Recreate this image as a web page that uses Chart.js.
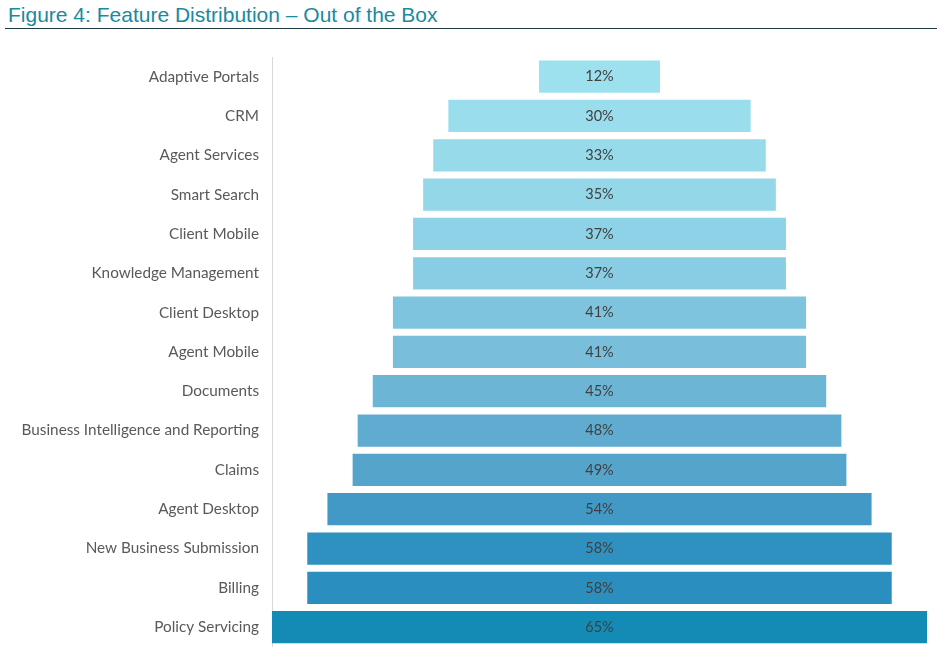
<!DOCTYPE html>
<html lang="en">
<head>
    <meta charset="UTF-8">
    <title>Figure 4: Feature Distribution – Out of the Box</title>
    <style>
        body {
            margin: 0;
            padding: 0;
            background: #fff;
            overflow: hidden;
        }
        .wrap {
            position: relative;
            width: 952px;
            height: 658px;
            overflow: hidden;
        }
        .title {
            position: absolute;
            left: 8px;
            top: 3px;
            font-family: 'Liberation Sans', Arial, sans-serif;
            font-size: 21px;
            color: #1a8a9f;
        }
        .rule {
            position: absolute;
            left: 5px;
            top: 28px;
            width: 932px;
            height: 1px;
            background: #1f3b45;
        }
        canvas {
            position: absolute;
            left: 0;
            top: 0;
        }
    </style>
</head>
<body>
    <div class="wrap">
        <div class="title">Figure 4: Feature Distribution – Out of the Box</div>
        <div class="rule"></div>
        <canvas id="funnel" width="952" height="661"></canvas>
    </div>
    <script src="https://cdn.jsdelivr.net/npm/chart.js@4"></script>
    <script>
        const features = ['Adaptive Portals', 'CRM', 'Agent Services', 'Smart Search', 'Client Mobile',
            'Knowledge Management', 'Client Desktop', 'Agent Mobile', 'Documents',
            'Business Intelligence and Reporting', 'Claims', 'Agent Desktop',
            'New Business Submission', 'Billing', 'Policy Servicing'];
        const shares = [12, 30, 33, 35, 37, 37, 41, 41, 45, 48, 49, 54, 58, 58, 65];
        const barColors = ['#9de0ee', '#9adeed', '#97dbeb', '#93d7e9', '#8dd2e6', '#88cde3', '#7fc4de',
            '#79bedb', '#6db5d5', '#60abd0', '#55a4cc', '#4299c5', '#2f91c0', '#2a8fbe', '#148bb5'];

        // write the % in the middle of each bar
        const centerLabels = {
            id: 'centerLabels',
            afterDatasetsDraw(chart) {
                const ctx = chart.ctx;
                const meta = chart.getDatasetMeta(0);
                ctx.save();
                ctx.font = '14.5px Lato, sans-serif';
                ctx.fillStyle = '#404040';
                ctx.textAlign = 'center';
                ctx.textBaseline = 'middle';
                meta.data.forEach((bar, i) => {
                    const xc = chart.scales.x.getPixelForValue(0);
                    ctx.fillText(shares[i] + '%', xc, bar.y);
                });
                ctx.restore();
            }
        };

        new Chart(document.getElementById('funnel'), {
            type: 'bar',
            data: {
                labels: features,
                datasets: [{
                    data: shares.map(v => [-v / 2, v / 2]),
                    backgroundColor: barColors,
                    borderWidth: 0,
                    categoryPercentage: 1,
                    barPercentage: 0.82
                }]
            },
            options: {
                indexAxis: 'y',
                responsive: false,
                animation: false,
                layout: { padding: { left: 0, right: 25, top: 57, bottom: 0 } },
                plugins: {
                    legend: { display: false },
                    tooltip: { enabled: false }
                },
                scales: {
                    x: {
                        display: false,
                        min: -32.5,
                        max: 32.5
                    },
                    y: {
                        afterFit: s => { s.width = 272; },
                        grid: { display: false },
                        border: { color: '#d9d9d9' },
                        ticks: {
                            padding: 5,
                            color: '#595959',
                            font: { family: 'Lato', size: 15.3 }
                        }
                    }
                }
            },
            plugins: [centerLabels]
        });
    </script>
</body>
</html>
